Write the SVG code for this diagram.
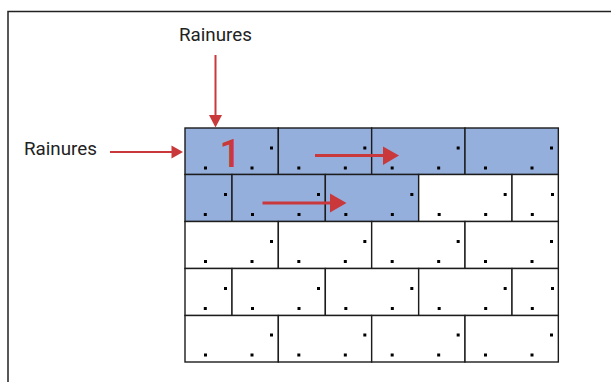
<svg xmlns="http://www.w3.org/2000/svg" xmlns:xlink="http://www.w3.org/1999/xlink" width="611" height="382" viewBox="0 0 611 382">
<style>
.lbl{font-family:Roboto,"Liberation Sans",sans-serif;font-size:18.8px;fill:#222}
.b{stroke:#1c1c1c;stroke-width:1.4;fill:#fff}
.bl{fill:#95AFDC}
.d{fill:#000}
.ar{stroke:#C9383A;fill:none}
.ah{fill:#C9383A}
</style>
<defs>
<g id="dF"><rect class="d" x="19" y="38.5" width="3" height="3"/><rect class="d" x="65.5" y="38.5" width="3" height="3"/><rect class="d" x="85" y="18.5" width="3" height="3"/></g>
<g id="dH"><rect class="d" x="18.8" y="38.5" width="3" height="3"/><rect class="d" x="39" y="18.5" width="3" height="3"/></g>
</defs>
<rect width="611" height="382" fill="#fff"/>
<path d="M8,382 V11.5 H611" fill="none" stroke="#222" stroke-width="1.5"/>
<g id="row1">
<g id="b1-1"><rect class="b bl" x="185" y="128" width="93.33" height="46.5"/><use xlink:href="#dF" x="185" y="128"/></g>
<g id="b1-2"><rect class="b bl" x="278.33" y="128" width="93.33" height="46.5"/><use xlink:href="#dF" x="278.33" y="128"/></g>
<g id="b1-3"><rect class="b bl" x="371.67" y="128" width="93.33" height="46.5"/><use xlink:href="#dF" x="371.67" y="128"/></g>
<g id="b1-4"><rect class="b bl" x="465" y="128" width="93.33" height="46.5"/><use xlink:href="#dF" x="465" y="128"/></g>
</g>
<g id="row2">
<g id="b2-1"><rect class="b bl" x="185" y="174.5" width="47" height="47"/><use xlink:href="#dH" x="185" y="174.5"/></g>
<g id="b2-2"><rect class="b bl" x="232" y="174.5" width="93.33" height="47"/><use xlink:href="#dF" x="232" y="174.5"/></g>
<g id="b2-3"><rect class="b bl" x="325.33" y="174.5" width="93.33" height="47"/><use xlink:href="#dF" x="325.33" y="174.5"/></g>
<g id="b2-4"><rect class="b" x="418.67" y="174.5" width="93.33" height="47"/><use xlink:href="#dF" x="418.67" y="174.5"/></g>
<g id="b2-5"><rect class="b" x="512" y="174.5" width="46.33" height="47"/><use xlink:href="#dH" x="512" y="174.5"/></g>
</g>
<g id="row3">
<g id="b3-1"><rect class="b" x="185" y="221.5" width="93.33" height="47"/><use xlink:href="#dF" x="185" y="221.5"/></g>
<g id="b3-2"><rect class="b" x="278.33" y="221.5" width="93.33" height="47"/><use xlink:href="#dF" x="278.33" y="221.5"/></g>
<g id="b3-3"><rect class="b" x="371.67" y="221.5" width="93.33" height="47"/><use xlink:href="#dF" x="371.67" y="221.5"/></g>
<g id="b3-4"><rect class="b" x="465" y="221.5" width="93.33" height="47"/><use xlink:href="#dF" x="465" y="221.5"/></g>
</g>
<g id="row4">
<g id="b4-1"><rect class="b" x="185" y="268.5" width="47" height="47"/><use xlink:href="#dH" x="185" y="268.5"/></g>
<g id="b4-2"><rect class="b" x="232" y="268.5" width="93.33" height="47"/><use xlink:href="#dF" x="232" y="268.5"/></g>
<g id="b4-3"><rect class="b" x="325.33" y="268.5" width="93.33" height="47"/><use xlink:href="#dF" x="325.33" y="268.5"/></g>
<g id="b4-4"><rect class="b" x="418.67" y="268.5" width="93.33" height="47"/><use xlink:href="#dF" x="418.67" y="268.5"/></g>
<g id="b4-5"><rect class="b" x="512" y="268.5" width="46.33" height="47"/><use xlink:href="#dH" x="512" y="268.5"/></g>
</g>
<g id="row5">
<g id="b5-1"><rect class="b" x="185" y="315.5" width="93.33" height="46.5"/><use xlink:href="#dF" x="185" y="315"/></g>
<g id="b5-2"><rect class="b" x="278.33" y="315.5" width="93.33" height="46.5"/><use xlink:href="#dF" x="278.33" y="315"/></g>
<g id="b5-3"><rect class="b" x="371.67" y="315.5" width="93.33" height="46.5"/><use xlink:href="#dF" x="371.67" y="315"/></g>
<g id="b5-4"><rect class="b" x="465" y="315.5" width="93.33" height="46.5"/><use xlink:href="#dF" x="465" y="315"/></g>
</g>
<g id="label-top"><text class="lbl" x="179" y="40.5">Rainures</text></g>
<g id="label-left"><text class="lbl" x="24" y="154.5">Rainures</text></g>
<g id="mark-1"><text x="219.5" y="166.5" font-family="Roboto,'Liberation Sans',sans-serif" font-size="38" font-weight="500" fill="#C9383A">1</text></g>
<g id="connectors">
<path class="ar" stroke-width="2" d="M215.5,55 V116"/>
<polygon class="ah" points="209,115 222,115 215.5,127.5"/>
<path class="ar" stroke-width="2" d="M110,152 H172"/>
<polygon class="ah" points="171.5,145.5 171.5,158.5 183,152"/>
<path class="ar" stroke-width="3" d="M315,155.5 H384"/>
<polygon class="ah" points="383,146.5 383,165 399,155.5"/>
<path class="ar" stroke-width="3" d="M262.5,203 H331"/>
<polygon class="ah" points="330,193.5 330,212.5 346.5,203"/>
</g>
</svg>
